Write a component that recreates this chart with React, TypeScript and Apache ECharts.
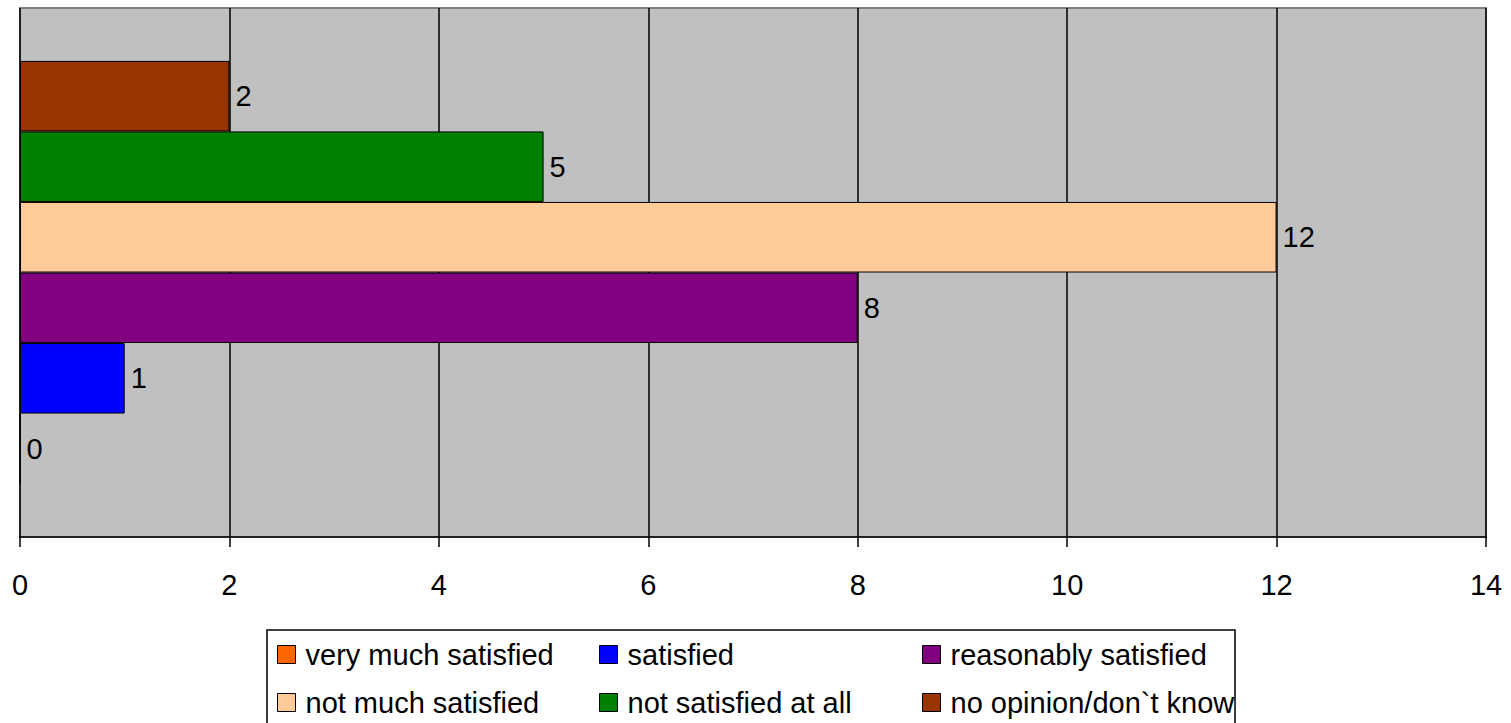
import React, { useEffect, useRef } from "react";
import * as echarts from "echarts";

const categories = [
  "very much satisfied",
  "satisfied",
  "reasonably satisfied",
  "not much satisfied",
  "not satisfied at all",
  "no opinion/don`t know",
];
const values = [0, 1, 8, 12, 5, 2];
const colors = ["#FF6600", "#0000FF", "#800080", "#FFCC99", "#008000", "#993300"];
const legendColumns = [
  ["very much satisfied", "not much satisfied"],
  ["satisfied", "not satisfied at all"],
  ["reasonably satisfied", "no opinion/don`t know"],
];
const xMin = 0;
const xMax = 14;
const xStep = 2;

const FONT = "'Liberation Sans', Arial, sans-serif";

export default function App() {
  const ref = useRef<HTMLDivElement>(null);
  useEffect(() => {
    if (!ref.current) return;
    const chart = echarts.init(ref.current, null, { renderer: "svg" });
    const order = categories.map((_, i) => i).reverse();
    const series = order.map((i) => ({
      name: categories[i],
      type: "bar",
      data: [values[i]],
      barGap: "0%",
      barCategoryGap: "20%",
      itemStyle: { color: colors[i], borderColor: "#000", borderWidth: 1 },
      label: {
        show: true,
        position: "right",
        distance: 6,
        color: "#000",
        fontSize: 29,
        fontFamily: FONT,
      },
    }));
    const legendLefts = [277, 599, 922];
    chart.setOption({
      animation: false,
      backgroundColor: "#fff",
      grid: {
        left: 20,
        right: 25,
        top: 8,
        bottom: 186,
        show: true,
        backgroundColor: "#C0C0C0",
        borderColor: "#808080",
        borderWidth: 2,
      },
      xAxis: {
        type: "value",
        min: xMin,
        max: xMax,
        interval: xStep,
        axisLine: { show: true, lineStyle: { color: "#000", width: 1.5 } },
        axisTick: { show: true, length: 10, lineStyle: { color: "#000", width: 1.5 } },
        axisLabel: { color: "#000", fontSize: 29, fontFamily: FONT, margin: 33 },
        splitLine: { show: true, lineStyle: { color: "#000", width: 1.5 } },
      },
      yAxis: {
        type: "category",
        data: [""],
        axisLine: { show: false },
        axisTick: { show: false },
        axisLabel: { show: false },
        splitLine: { show: false },
      },
      legend: legendColumns.map((col, k) => ({
        data: col,
        orient: "vertical",
        left: legendLefts[k],
        top: 640,
        height: 120,
        itemWidth: 18,
        itemHeight: 18,
        itemGap: 19,
        icon: "rect",
        padding: 0,
        selectedMode: false,
        itemStyle: { borderColor: "#000", borderWidth: 1 },
        textStyle: { color: "#000", fontSize: 29, fontFamily: FONT, padding: [0, 0, 0, 5] },
      })),
      graphic: [
        {
          type: "rect",
          shape: { x: 267, y: 630, width: 968, height: 120 },
          style: { fill: "none", stroke: "#000", lineWidth: 1.5 },
          silent: true,
        },
      ],
      series,
    });
    return () => chart.dispose();
  }, []);
  return (
    <div
      ref={ref}
      style={{ position: "fixed", left: 0, top: 0, width: 1511, height: 723 }}
    />
  );
}
